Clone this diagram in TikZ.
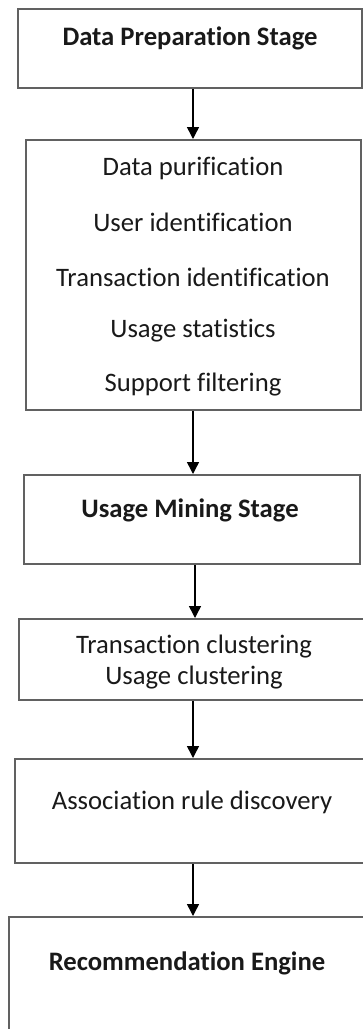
\documentclass[tikz,border=0pt]{standalone}
\usepackage{fontspec}
\setmainfont{Carlito}[Ligatures=NoCommon]
\usetikzlibrary{arrows.meta}
\begin{document}
\begin{tikzpicture}[x=0.75pt,y=-0.75pt,
  box/.style={draw=black!62,line width=1.5pt,inner sep=0pt,fill=none},
  txt/.style={inner sep=0pt,font=\fontsize{20}{24}\selectfont,text=black!90},
  btxt/.style={inner sep=0pt,font=\fontsize{20}{24}\selectfont\bfseries,text=black!90},
  arr/.style={line width=1.1pt,-{Triangle[length=9pt,width=9pt]}}]
\useasboundingbox (0,0) rectangle (363,1029);
\clip (0,0) rectangle (363,1029);
% boxes
\node[box,minimum width=344*0.75pt,minimum height=79*0.75pt] (b1) at (190,48.5) {};
\node[box,minimum width=335*0.75pt,minimum height=270*0.75pt] (b2) at (193.5,275) {};
\node[box,minimum width=336*0.75pt,minimum height=89*0.75pt] (b3) at (192,519.5) {};
\node[box,minimum width=356*0.75pt,minimum height=81*0.75pt] (b4) at (197,659.5) {};
\node[box,minimum width=360*0.75pt,minimum height=104*0.75pt] (b5) at (195,811) {};
\node[box,minimum width=366*0.75pt,minimum height=123*0.75pt] (b6) at (192,978.5) {};
% texts
\node[btxt] (t1) at (190,38) {Data Preparation Stage};
\node[txt] (t2a) at (193,168) {Data purification};
\node[txt] (t2b) at (193,222) {User identification};
\node[txt] (t2c) at (193,277) {Transaction identification};
\node[txt] (t2d) at (193,331) {Usage statistics};
\node[txt] (t2e) at (193,385) {Support filtering};
\node[btxt] (t3) at (190,510) {Usage Mining Stage};
\node[txt] (t4a) at (194,647) {Transaction clustering};
\node[txt] (t4b) at (194,678) {Usage clustering};
\node[txt] (t5) at (192,802) {Association rule discovery};
\node[btxt] (t6) at (187,963) {Recommendation Engine};
% connectors
\coordinate (ax) at (193,0);
\coordinate (ay) at (195,0);
\draw[arr] (b1.south -| ax) -- (b2.north -| ax);
\draw[arr] (b2.south -| ax) -- (b3.north -| ax);
\draw[arr] (b3.south -| ay) -- (b4.north -| ay);
\draw[arr] (b4.south -| ax) -- (b5.north -| ax);
\draw[arr] (b5.south -| ax) -- (b6.north -| ax);
\end{tikzpicture}
\end{document}
